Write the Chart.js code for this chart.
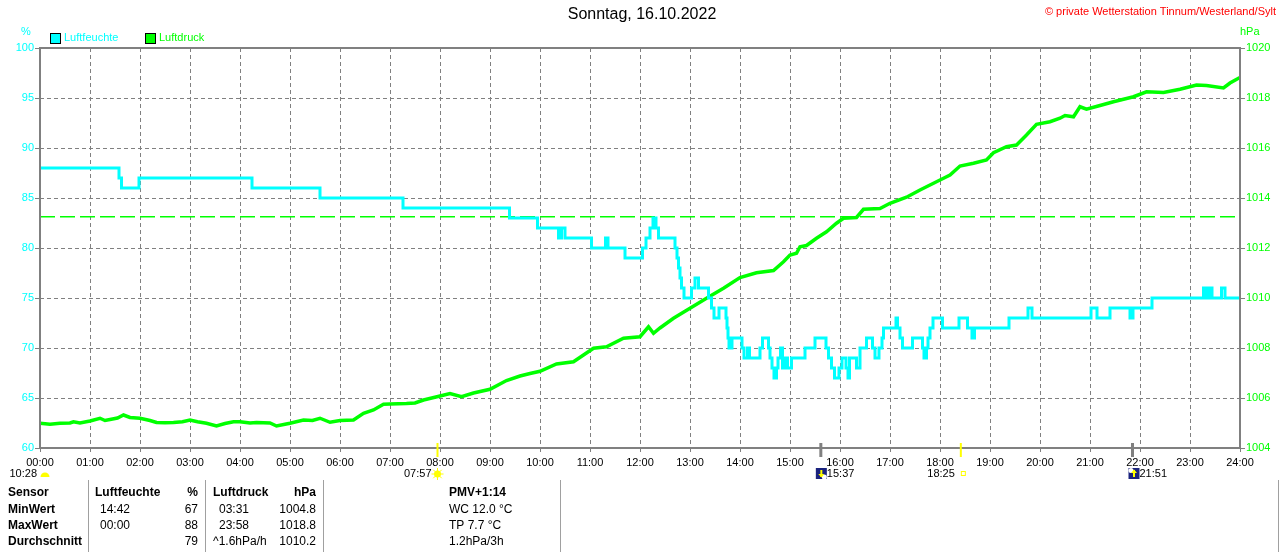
<!DOCTYPE html>
<html>
<head>
<meta charset="utf-8">
<script src="https://cdn.jsdelivr.net/npm/chart.js@4.4.0/dist/chart.umd.min.js"></script>
<style>
  html, body { margin: 0; padding: 0; background: #fff; overflow: hidden; }
  canvas { display: block; }
</style>
</head>
<body>
<canvas id="wetter" width="1280" height="552"></canvas>
<script>
// Luftfeuchte (%): Zeitpunkt (Stunde), ab dem der Wert gilt
const feuchteZeit = [0, 1.58, 1.63, 1.98, 4.24, 5.6, 7.26, 9.39, 9.95, 10.37,
    10.43, 10.5, 11.03, 11.31, 11.36, 11.7, 12.05, 12.12, 12.2, 12.26,
    12.32, 12.37, 12.7, 12.74, 12.77, 12.8, 12.83, 12.88, 13.03, 13.1,
    13.17, 13.37, 13.43, 13.48, 13.58, 13.72, 13.74, 13.76, 13.78, 13.84,
    14.04, 14.08, 14.15, 14.19, 14.4, 14.45, 14.57, 14.6, 14.64, 14.68,
    14.73, 14.76, 14.81, 14.85, 14.9, 14.95, 15.03, 15.3, 15.5, 15.72,
    15.77, 15.83, 15.89, 15.98, 16.04, 16.12, 16.16, 16.19, 16.33, 16.4,
    16.53, 16.65, 16.7, 16.78, 16.84, 16.87, 17.12, 17.15, 17.2, 17.25,
    17.45, 17.65, 17.68, 17.73, 17.76, 17.8, 17.86, 18.05, 18.38, 18.55,
    18.64, 18.69, 19.38, 19.76, 19.84, 21.02, 21.14, 21.4, 21.8, 21.86,
    22.24, 23.27, 23.3, 23.33, 23.36, 23.4, 23.44, 23.63, 23.7, 24];
const feuchteWert = [88, 87, 86, 87, 86, 85, 84, 83, 82, 81,
    82, 81, 80, 81, 80, 79, 80, 81, 82, 83,
    82, 81, 80, 79, 78, 77, 76, 75, 76, 77,
    76, 75, 74, 73, 74, 73, 72, 71, 70, 71,
    70, 69, 70, 69, 70, 71, 70, 69, 68, 67,
    68, 69, 70, 68, 69, 68, 69, 70, 71, 70,
    69, 68, 67, 68, 69, 68, 67, 69, 68, 70,
    71, 70, 69, 70, 71, 72, 73, 72, 71, 70,
    71, 70, 69, 70, 71, 72, 73, 72, 73, 72,
    71, 72, 73, 74, 73, 74, 73, 74, 73, 74,
    75, 76, 75, 76, 75, 76, 75, 76, 75, 75];

// Luftdruck (hPa)
const druckZeit = [0, 0.2, 0.4, 0.6, 0.67, 0.8, 1.0, 1.2, 1.3, 1.4,
    1.55, 1.67, 1.8, 2.0, 2.2, 2.33, 2.5, 2.67, 2.85, 3.0,
    3.15, 3.33, 3.53, 3.7, 3.87, 4.0, 4.2, 4.33, 4.6, 4.73,
    4.9, 5.0, 5.27, 5.45, 5.6, 5.8, 6.0, 6.27, 6.47, 6.67,
    6.87, 7.0, 7.33, 7.5, 7.67, 8.0, 8.2, 8.43, 8.67, 9.0,
    9.33, 9.6, 9.8, 10.0, 10.33, 10.67, 10.87, 11.07, 11.33, 11.67,
    12.0, 12.17, 12.27, 12.4, 12.67, 13.0, 13.33, 13.67, 14.0, 14.33,
    14.67, 14.87, 15.0, 15.13, 15.2, 15.33, 15.53, 15.73, 15.93, 16.07,
    16.33, 16.47, 16.8, 17.0, 17.33, 17.6, 17.87, 18.0, 18.2, 18.4,
    18.67, 18.93, 19.07, 19.33, 19.53, 19.73, 19.93, 20.2, 20.4, 20.5,
    20.67, 20.8, 20.93, 21.2, 21.47, 21.87, 22.13, 22.47, 22.8, 23.13,
    23.33, 23.67, 23.8, 23.97, 24.0];
const druckWert = [1004.99, 1004.95, 1004.99, 1005.0, 1005.05, 1005.0, 1005.08, 1005.19, 1005.1, 1005.14,
    1005.2, 1005.32, 1005.22, 1005.19, 1005.1, 1005.02, 1005.01, 1005.02, 1005.05, 1005.12,
    1005.05, 1004.99, 1004.88, 1004.98, 1005.05, 1005.05, 1005.0, 1005.02, 1005.0, 1004.88,
    1004.95, 1004.99, 1005.12, 1005.1, 1005.19, 1005.03, 1005.1, 1005.12, 1005.39, 1005.52,
    1005.75, 1005.76, 1005.78, 1005.8, 1005.92, 1006.08, 1006.18, 1006.05, 1006.2, 1006.35,
    1006.7, 1006.88, 1006.98, 1007.07, 1007.36, 1007.45, 1007.72, 1007.99, 1008.05, 1008.39,
    1008.45, 1008.85, 1008.59, 1008.8, 1009.19, 1009.59, 1009.99, 1010.39, 1010.82, 1011.01,
    1011.1, 1011.45, 1011.72, 1011.79, 1012.05, 1012.1, 1012.39, 1012.65, 1012.99, 1013.19,
    1013.22, 1013.55, 1013.58, 1013.79, 1014.03, 1014.32, 1014.59, 1014.72, 1014.92, 1015.28,
    1015.39, 1015.52, 1015.81, 1016.05, 1016.12, 1016.52, 1016.95, 1017.05, 1017.19, 1017.3,
    1017.25, 1017.65, 1017.55, 1017.7, 1017.85, 1018.05, 1018.25, 1018.22, 1018.35, 1018.52,
    1018.5, 1018.4, 1018.6, 1018.79, 1018.82];

const normDruck = 1013.25;

// Sonne / Mond
const sonnenZeiten = [7.95, 18.4167];      // 07:57 Aufgang, 18:25 Untergang
const sonnenLabels = ['07:57', '18:25'];
const mondZeiten = [15.6167, 21.85];       // 15:37 Untergang, 21:51 Aufgang
const mondLabels = ['15:37', '21:51'];
const tagLaenge = '10:28';

// Tabelle unten
const tabKopf = ['Sensor', 'Luftfeuchte', '%', 'Luftdruck', 'hPa', 'PMV+1:14'];
const tabZeilen = ['MinWert', 'MaxWert', 'Durchschnitt'];
const feuchteZeiten = ['14:42', '00:00', ''];
const feuchteWerte = ['67', '88', '79'];
const druckZeiten = ['03:31', '23:58', '^1.6hPa/h'];
const druckWerte = ['1004.8', '1018.8', '1010.2'];
const pmvTexte = ['WC 12.0 °C', 'TP 7.7 °C', '1.2hPa/3h'];

const CYAN = '#00ffff', GRUEN = '#00ff00', GRAU = '#808080';
const FONT = '"Liberation Sans", Arial, sans-serif';

Chart.defaults.font.family = FONT;
Chart.defaults.font.size = 11;

function zeichneSonne(ctx, x, y) {
    ctx.save();
    ctx.strokeStyle = '#ffff00';
    ctx.lineWidth = 1;
    for (let i = 0; i < 8; i++) {
        const w = i * Math.PI / 4;
        ctx.beginPath();
        ctx.moveTo(x + Math.cos(w) * 3, y + Math.sin(w) * 3);
        ctx.lineTo(x + Math.cos(w) * 6, y + Math.sin(w) * 6);
        ctx.stroke();
    }
    ctx.fillStyle = '#ffff00';
    ctx.beginPath();
    ctx.arc(x, y, 3.5, 0, Math.PI * 2);
    ctx.fill();
    ctx.restore();
}

function zeichneMond(ctx, x, y, hoch) {
    ctx.save();
    ctx.fillStyle = '#1a237e';
    ctx.fillRect(x, y, 11, 11);
    ctx.fillStyle = '#ffffff';
    ctx.beginPath();
    if (hoch) ctx.arc(x + 2.5, y + 2.5, 2.5, 0, Math.PI * 2);
    else ctx.arc(x + 8.5, y + 9, 2.5, 0, Math.PI * 2);
    ctx.fill();
    ctx.strokeStyle = '#ffff00';
    ctx.fillStyle = '#ffff00';
    ctx.lineWidth = 2;
    ctx.beginPath();
    ctx.moveTo(x + 5.5, y + 2);
    ctx.lineTo(x + 5.5, y + 9);
    ctx.stroke();
    ctx.beginPath();
    if (hoch) { ctx.moveTo(x + 2.5, y + 5); ctx.lineTo(x + 8.5, y + 5); ctx.lineTo(x + 5.5, y + 1.5); }
    else { ctx.moveTo(x + 2.5, y + 6); ctx.lineTo(x + 8.5, y + 6); ctx.lineTo(x + 5.5, y + 9.5); }
    ctx.fill();
    ctx.restore();
}

const zusatz = {
    id: 'zusatz',
    beforeDraw(chart) {
        const ctx = chart.ctx;
        ctx.save();
        ctx.fillStyle = '#ffffff';
        ctx.fillRect(0, 0, chart.width, chart.height);
        ctx.restore();
    },
    afterDraw(chart) {
        const { ctx, chartArea: a, scales: { x } } = chart;
        ctx.save();

        // Rahmen
        ctx.strokeStyle = GRAU;
        ctx.lineWidth = 2;
        ctx.strokeRect(a.left, a.top, a.right - a.left, a.bottom - a.top);

        // Titel + Copyright
        ctx.textBaseline = 'middle';
        ctx.fillStyle = '#000';
        ctx.font = '16px ' + FONT;
        ctx.textAlign = 'center';
        ctx.fillText('Sonntag, 16.10.2022', 642, 15);
        ctx.fillStyle = '#ff0000';
        ctx.font = '11px ' + FONT;
        ctx.textAlign = 'right';
        ctx.fillText('© private Wetterstation Tinnum/Westerland/Sylt', 1276, 12);

        // Einheiten
        ctx.font = '11px ' + FONT;
        ctx.textAlign = 'center';
        ctx.fillStyle = CYAN;
        ctx.fillText('%', 26, 32);
        ctx.textAlign = 'left';
        ctx.fillStyle = GRUEN;
        ctx.fillText('hPa', 1240, 32);

        // Legende
        const legende = [[CYAN, 'Luftfeuchte', 50], [GRUEN, 'Luftdruck', 145]];
        legende.forEach(([farbe, text, lx]) => {
            ctx.fillStyle = farbe;
            ctx.fillRect(lx, 33, 10, 10);
            ctx.strokeStyle = '#000';
            ctx.lineWidth = 1;
            ctx.strokeRect(lx + 0.5, 33.5, 10, 10);
            ctx.fillText(text, lx + 14, 38);
        });

        // Sonnen- und Mondmarken an der Zeitachse
        sonnenZeiten.forEach((t) => {
            const px = x.getPixelForValue(t);
            ctx.strokeStyle = '#ffff00';
            ctx.lineWidth = 2;
            ctx.beginPath();
            ctx.moveTo(px, a.bottom - 5);
            ctx.lineTo(px, a.bottom + 9);
            ctx.stroke();
        });
        mondZeiten.forEach((t) => {
            const px = x.getPixelForValue(t);
            ctx.strokeStyle = GRAU;
            ctx.lineWidth = 3;
            ctx.beginPath();
            ctx.moveTo(px, a.bottom - 5);
            ctx.lineTo(px, a.bottom + 9);
            ctx.stroke();
        });

        // zweite Zeile unter der Achse
        const zy = 474;
        ctx.fillStyle = '#000';
        ctx.font = '11px ' + FONT;
        ctx.textAlign = 'right';
        ctx.fillText(tagLaenge, 37, zy);
        ctx.fillStyle = '#ffff00';
        ctx.beginPath();
        ctx.ellipse(45, 477, 4.5, 4.5, 0, Math.PI, 0);
        ctx.fill();

        const sa = x.getPixelForValue(sonnenZeiten[0]);
        ctx.fillStyle = '#000';
        ctx.fillText(sonnenLabels[0], sa - 6, zy);
        zeichneSonne(ctx, sa, zy);

        const su = x.getPixelForValue(sonnenZeiten[1]);
        ctx.fillStyle = '#000';
        ctx.fillText(sonnenLabels[1], su - 6, zy);
        ctx.strokeStyle = '#ffff00';
        ctx.lineWidth = 1;
        ctx.strokeRect(su + 0.5, zy - 2.5, 4, 4);

        ctx.textAlign = 'left';
        const mu = x.getPixelForValue(mondZeiten[0]);
        zeichneMond(ctx, mu - 5, zy - 6, false);
        ctx.fillStyle = '#000';
        ctx.fillText(mondLabels[0], mu + 6, zy);
        const ma = x.getPixelForValue(mondZeiten[1]);
        zeichneMond(ctx, ma - 4, zy - 6, true);
        ctx.fillStyle = '#000';
        ctx.fillText(mondLabels[1], ma + 7, zy);

        // Tabelle
        ctx.strokeStyle = '#a0a0a0';
        ctx.lineWidth = 1;
        [88.5, 205.5, 323.5, 560.5, 1278.5].forEach((sx) => {
            ctx.beginPath();
            ctx.moveTo(sx, 480);
            ctx.lineTo(sx, 552);
            ctx.stroke();
        });

        const zeilenY = [493, 510, 526, 542];
        ctx.fillStyle = '#000';
        ctx.font = 'bold 12px ' + FONT;
        ctx.textAlign = 'left';
        ctx.fillText(tabKopf[0], 8, zeilenY[0]);
        ctx.fillText(tabKopf[1], 95, zeilenY[0]);
        ctx.fillText(tabKopf[3], 213, zeilenY[0]);
        ctx.fillText(tabKopf[5], 449, zeilenY[0]);
        ctx.textAlign = 'right';
        ctx.fillText(tabKopf[2], 198, zeilenY[0]);
        ctx.fillText(tabKopf[4], 316, zeilenY[0]);

        tabZeilen.forEach((name, i) => {
            const ty = zeilenY[i + 1];
            ctx.font = 'bold 12px ' + FONT;
            ctx.textAlign = 'left';
            ctx.fillText(name, 8, ty);
            ctx.font = '12px ' + FONT;
            ctx.fillText(feuchteZeiten[i], 100, ty);
            ctx.fillText(druckZeiten[i], i === 2 ? 213 : 219, ty);
            ctx.fillText(pmvTexte[i], 449, ty);
            ctx.textAlign = 'right';
            ctx.fillText(feuchteWerte[i], 198, ty);
            ctx.fillText(druckWerte[i], 316, ty);
        });

        ctx.restore();
    }
};

const feuchteDaten = feuchteZeit.map((t, i) => ({ x: t, y: feuchteWert[i] }));
const druckDaten = druckZeit.map((t, i) => ({ x: t, y: druckWert[i] }));
const normDaten = [{ x: 0, y: normDruck }, { x: 24, y: normDruck }];

new Chart(document.getElementById('wetter').getContext('2d'), {
    type: 'line',
    data: {
        datasets: [{
            label: 'Luftfeuchte',
            data: feuchteDaten,
            yAxisID: 'y',
            borderColor: CYAN,
            borderWidth: 3,
            stepped: true,
            pointRadius: 0,
            fill: false
        }, {
            label: 'Luftdruck',
            data: druckDaten,
            yAxisID: 'y1',
            borderColor: GRUEN,
            borderWidth: 3.5,
            tension: 0,
            pointRadius: 0,
            fill: false
        }, {
            label: 'Normaldruck',
            data: normDaten,
            yAxisID: 'y1',
            borderColor: GRUEN,
            borderWidth: 1.5,
            borderDash: [15, 5],
            pointRadius: 0,
            fill: false
        }]
    },
    options: {
        responsive: false,
        animation: false,
        devicePixelRatio: 1,
        layout: { padding: { top: 48, left: 0, right: 0, bottom: 0 } },
        plugins: {
            legend: { display: false },
            tooltip: { enabled: false }
        },
        scales: {
            x: {
                type: 'linear',
                min: 0,
                max: 24,
                ticks: {
                    stepSize: 1,
                    autoSkip: false,
                    maxRotation: 0,
                    color: '#000',
                    padding: 4,
                    callback: (v) => String(v).padStart(2, '0') + ':00'
                },
                grid: { color: GRAU, lineWidth: 1, tickLength: 4, tickColor: GRAU },
                border: { display: false, dash: [4, 3] },
                afterFit: (s) => { s.height = 104; }
            },
            y: {
                position: 'left',
                min: 60,
                max: 100,
                ticks: { stepSize: 5, color: CYAN, padding: 1, callback: (v) => String(v) },
                grid: { color: GRAU, lineWidth: 1, tickLength: 5, tickColor: GRAU },
                border: { display: false, dash: [4, 3] },
                afterFit: (s) => { s.width = 40; }
            },
            y1: {
                position: 'right',
                min: 1004,
                max: 1020,
                ticks: { stepSize: 2, color: GRUEN, padding: 1, callback: (v) => String(v) },
                grid: { drawOnChartArea: false, tickLength: 5, tickColor: GRAU },
                border: { display: false },
                afterFit: (s) => { s.width = 40; }
            }
        }
    },
    plugins: [zusatz]
});
</script>
</body>
</html>
